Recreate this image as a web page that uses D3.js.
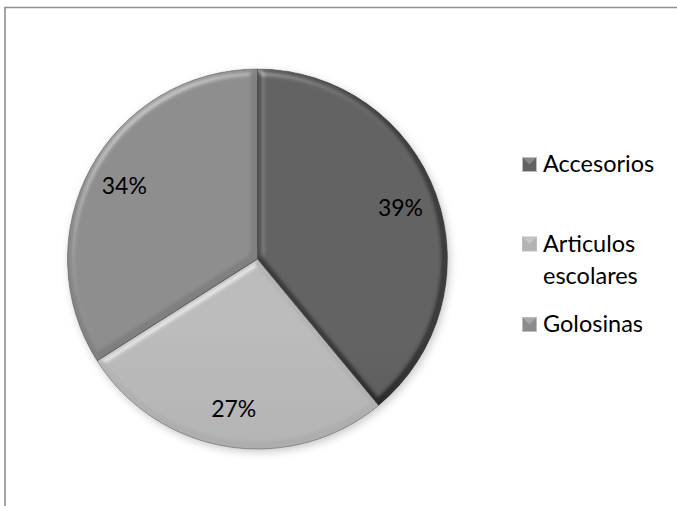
<!DOCTYPE html>
<html>
<head>
<meta charset="utf-8">
<script src="https://cdn.jsdelivr.net/npm/d3@7"></script>
<style>
  html, body { margin: 0; padding: 0; background: #fff; }
  svg { display: block; }
  text { font-family: Lato, "Open Sans", sans-serif; fill: #000; }
</style>
</head>
<body>
<svg id="chart" width="677" height="506"></svg>
<script>
// Data
const categories = ["Accesorios", "Articulos escolares", "Golosinas"];
const legendLines = [["Accesorios"], ["Articulos", "escolares"], ["Golosinas"]];
const values = [39, 27, 34];
const sliceColors = ["#616161", "#b3b3b3", "#8b8b8b"];
const sliceTop = ["#686868", "#bdbdbd", "#909090"];
const sliceBottom = ["#525252", "#a6a6a6", "#848484"];

const W = 677, H = 506;
const cx = 257.5, cy = 259, R = 190;

const svg = d3.select("#chart");
const defs = svg.append("defs");

// chart area frame (top and left edges visible)
svg.append("path")
  .attr("d", `M5,${H} L5,7.5 L${W},7.5`)
  .attr("fill", "none")
  .attr("stroke", "#8e8e8e")
  .attr("stroke-width", 1.6);

// soft shadow under the pie
const shadow = defs.append("filter").attr("id", "pieShadow")
  .attr("x", "-20%").attr("y", "-20%").attr("width", "140%").attr("height", "140%");
shadow.append("feGaussianBlur").attr("stdDeviation", 4);

// bevel lighting for each slice
const bevel = defs.append("filter").attr("id", "bevel")
  .attr("x", "-5%").attr("y", "-5%").attr("width", "110%").attr("height", "110%");
bevel.append("feGaussianBlur").attr("in", "SourceAlpha").attr("stdDeviation", 3.5).attr("result", "blur");
const spec = bevel.append("feSpecularLighting")
  .attr("in", "blur").attr("surfaceScale", 4).attr("specularConstant", 0.6)
  .attr("specularExponent", 14).attr("lighting-color", "#ffffff").attr("result", "spec");
spec.append("feDistantLight").attr("azimuth", 235).attr("elevation", 42);
bevel.append("feComposite").attr("in", "spec").attr("in2", "SourceAlpha")
  .attr("operator", "in").attr("result", "specIn");
bevel.append("feComposite").attr("in", "SourceGraphic").attr("in2", "specIn")
  .attr("operator", "arithmetic").attr("k1", 0).attr("k2", 1).attr("k3", 0.6).attr("k4", -0.12);

// vertical shading per slice
sliceColors.forEach((c, i) => {
  const g = defs.append("linearGradient").attr("id", "grad" + i)
    .attr("gradientUnits", "userSpaceOnUse")
    .attr("x1", cx).attr("y1", cy - R).attr("x2", cx).attr("y2", cy + R);
  g.append("stop").attr("offset", "0%").attr("stop-color", sliceTop[i]);
  g.append("stop").attr("offset", "100%").attr("stop-color", sliceBottom[i]);
});

const pie = d3.pie().sort(null).value(d => d);
const arcs = pie(values);
const arc = d3.arc().innerRadius(0).outerRadius(R);
const labelArc = d3.arc().innerRadius(R * 0.8).outerRadius(R * 0.8);

const g = svg.append("g").attr("transform", `translate(${cx},${cy})`);

g.append("circle")
  .attr("cx", 2).attr("cy", 3).attr("r", R)
  .attr("fill", "#9a9a9a").attr("opacity", 0.55)
  .attr("filter", "url(#pieShadow)");

g.selectAll("path.slice")
  .data(arcs)
  .join("path")
  .attr("class", "slice")
  .attr("d", arc)
  .attr("fill", (d, i) => `url(#grad${i})`)
  .attr("filter", "url(#bevel)");

// thin seams between slices
g.selectAll("path.seam")
  .data(arcs)
  .join("path")
  .attr("class", "seam")
  .attr("d", arc)
  .attr("fill", "none")
  .attr("stroke", "#4a4a4a")
  .attr("stroke-opacity", 0.55)
  .attr("stroke-width", 0.8);

// percentage labels
const total = d3.sum(values);
g.selectAll("text.pct")
  .data(arcs)
  .join("text")
  .attr("class", "pct")
  .attr("x", d => labelArc.centroid(d)[0])
  .attr("y", d => labelArc.centroid(d)[1] + 8)
  .attr("text-anchor", "middle")
  .style("font-size", "23px")
  .text(d => Math.round(d.data / total * 100) + "%");

// legend
const legendY = [172, 251.5, 332];
const legend = svg.append("g");
legendLines.forEach((lines, i) => {
  const lg = legend.append("g").attr("transform", `translate(522,${legendY[i]})`);
  lg.append("rect")
    .attr("x", 0.5).attr("y", -14.5).attr("width", 14).attr("height", 14)
    .attr("fill", sliceColors[i])
    .attr("stroke", "#bdbdbd").attr("stroke-width", 1);
  lg.append("path")
    .attr("d", "M1,-14 L7.5,-7.5 L14,-14 Z")
    .attr("fill", "#fff").attr("opacity", 0.25);
  lines.forEach((t, j) => {
    lg.append("text")
      .attr("x", 21).attr("y", j * 32.5)
      .style("font-size", "23.5px")
      .text(t);
  });
});
</script>
</body>
</html>
